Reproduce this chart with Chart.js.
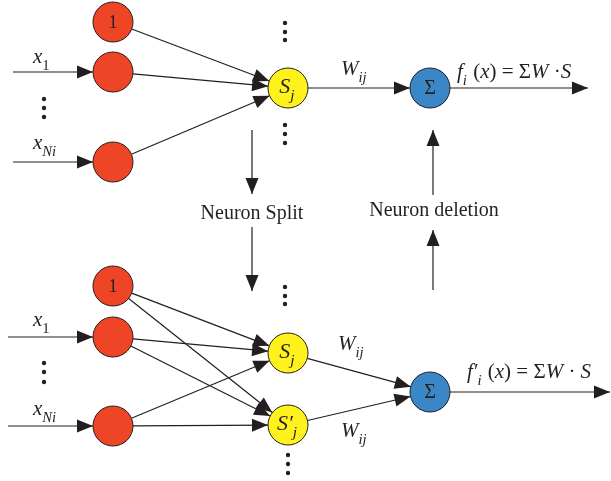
<!DOCTYPE html>
<html>
<head>
<meta charset="utf-8">
<script src="https://cdn.jsdelivr.net/npm/chart.js@4"></script>
<style>
  body { margin: 0; background: #fff; }
  #wrap { width: 611px; height: 481px; }
</style>
</head>
<body>
<div id="wrap"><canvas id="net"></canvas></div>
<script>
/* Neuron split / deletion diagram drawn on a pixel-sized scatter chart */

// nodes (ids, centres in chart units, kind)
const NODE_IDS  = ["b1", "x1", "xn", "s", "sum", "b1b", "x1b", "xnb", "sb", "sp", "sumb"];
const NODE_X    = [113, 113, 113, 288, 430, 113, 113, 113, 288, 288, 430];
const NODE_Y    = [22, 72, 162, 88, 88, 286, 337, 426, 353, 425, 392];
const NODE_KIND = ["in", "in", "in", "hid", "out", "in", "in", "in", "hid", "hid", "out"];
const NODE_TEXT = ["1", "", "", "S|j", "Σ", "1", "", "", "S|j", "S′|j", "Σ"];
const NODE_R = 20;

// connections between nodes, all with arrowheads at the target
const EDGES = [
    ["b1", "s"], ["x1", "s"], ["xn", "s"], ["s", "sum"],
    ["b1b", "sb"], ["b1b", "sp"], ["x1b", "sb"], ["x1b", "sp"],
    ["xnb", "sb"], ["xnb", "sp"], ["sb", "sumb"], ["sp", "sumb"],
];

// free arrows: start x, start y, tip x, tip y
const ARROWS = [
    [13, 72, 93, 72], [13, 162, 93, 162], [450, 88, 588, 88],
    [8, 337, 93, 337], [8, 426, 93, 426], [450, 392, 610, 392],
    [252, 130, 252, 194], [252, 227, 252, 291],
    [433, 290, 433, 230], [433, 195, 433, 130],
];

// vertical ellipsis dots
const DOTS_X = [44, 44, 44, 285, 285, 285, 285, 285, 285, 44, 44, 44, 285, 285, 285, 288, 288, 288];
const DOTS_Y = [99, 108, 117, 23, 32, 40, 125, 134, 143, 363, 372, 382, 287, 296, 304, 455, 464, 473];

const COLORS = { in: "#EF4527", hid: "#FFF21C", out: "#3A87C8" };
const INK = "#231F20";

// labels: [x, y(baseline), align, parts]  part = [text, italic, sub]
const LABELS = [
    [33, 63, "left", [["x", 1, 0], ["1", 0, 1]]],
    [33, 149, "left", [["x", 1, 0], ["Ni", 1, 1]]],
    [33, 326, "left", [["x", 1, 0], ["1", 0, 1]]],
    [33, 415, "left", [["x", 1, 0], ["Ni", 1, 1]]],
    [341, 75, "left", [["W", 1, 0], ["ij", 1, 1]]],
    [338, 350, "left", [["W", 1, 0], ["ij", 1, 1]]],
    [341, 437, "left", [["W", 1, 0], ["ij", 1, 1]]],
    [457, 78, "left", [["f", 1, 0], ["i", 1, 1], [" (", 0, 0], ["x", 1, 0], [") = Σ", 0, 0], ["W", 1, 0], [" ·", 0, 0], ["S", 1, 0]]],
    [467, 378, "left", [["f′", 1, 0], ["i", 1, 1], [" (", 0, 0], ["x", 1, 0], [") = Σ", 0, 0], ["W", 1, 0], [" · ", 0, 0], ["S", 1, 0]]],
];
const CAPTIONS = [["Neuron Split", 252, 219], ["Neuron deletion", 434, 216]];

const SERIF = "'Liberation Serif', 'DejaVu Serif', serif";

function nodeAt(id) {
    const i = NODE_IDS.indexOf(id);
    return { x: NODE_X[i], y: NODE_Y[i] };
}

// edge from rim of source to rim of target
function edgeLine(a, b) {
    const p = nodeAt(a), q = nodeAt(b);
    const dx = q.x - p.x, dy = q.y - p.y, len = Math.hypot(dx, dy);
    const ux = dx / len, uy = dy / len;
    return [
        { x: p.x + ux * NODE_R, y: p.y + uy * NODE_R },
        { x: q.x - ux * NODE_R, y: q.y - uy * NODE_R },
    ];
}

const lineSets = EDGES.map(e => edgeLine(e[0], e[1]))
    .concat(ARROWS.map(a => [{ x: a[0], y: a[1] }, { x: a[2], y: a[3] }]))
    .map(pts => ({
        data: pts,
        showLine: true,
        pointRadius: 0,
        borderColor: INK,
        borderWidth: 1.2,
        borderCapStyle: "butt",
        arrow: true,
        order: 2,
    }));

function fontFor(part, base) {
    const size = part[2] ? base * 0.7 : base;
    return `${part[1] ? "italic " : ""}${size}px ${SERIF}`;
}

function drawRich(ctx, x, y, parts, align, base) {
    const widths = parts.map(p => { ctx.font = fontFor(p, base); return ctx.measureText(p[0]).width; });
    const total = widths.reduce((s, w) => s + w, 0);
    let cx = align === "center" ? x - total / 2 : x;
    parts.forEach((p, i) => {
        ctx.font = fontFor(p, base);
        ctx.fillText(p[0], cx, y + (p[2] ? base * 0.33 : 0));
        cx += widths[i] + (p[2] ? 1 : 0);
    });
}

const diagramPlugin = {
    id: "diagram",
    afterDatasetsDraw(chart) {
        const ctx = chart.ctx;
        const xs = chart.scales.x, ys = chart.scales.y;
        ctx.save();
        ctx.fillStyle = INK;

        // arrowheads
        chart.data.datasets.forEach((ds, i) => {
            if (!ds.arrow) return;
            const pts = chart.getDatasetMeta(i).data;
            const a = pts[0], b = pts[1];
            const ang = Math.atan2(b.y - a.y, b.x - a.x);
            const L = 16, W = 6.5;
            ctx.beginPath();
            ctx.moveTo(b.x, b.y);
            ctx.lineTo(b.x - L * Math.cos(ang) + W * Math.sin(ang), b.y - L * Math.sin(ang) - W * Math.cos(ang));
            ctx.lineTo(b.x - L * Math.cos(ang) - W * Math.sin(ang), b.y - L * Math.sin(ang) + W * Math.cos(ang));
            ctx.closePath();
            ctx.fill();
        });

        // node texts
        ctx.textBaseline = "alphabetic";
        NODE_TEXT.forEach((t, i) => {
            if (!t) return;
            const px = xs.getPixelForValue(NODE_X[i]), py = ys.getPixelForValue(NODE_Y[i]);
            if (t.includes("|")) {
                const [main, sub] = t.split("|");
                drawRich(ctx, px - 1, py + 5, [[main, 1, 0], [sub, 1, 1]], "center", 22);
            } else {
                drawRich(ctx, px, py + 6, [[t, 0, 0]], "center", t === "Σ" ? 20 : 18);
            }
        });

        // free labels
        LABELS.forEach(l => {
            drawRich(ctx, xs.getPixelForValue(l[0]), ys.getPixelForValue(l[1]), l[3], l[2], 21);
        });

        ctx.font = `20px ${SERIF}`;
        ctx.textAlign = "center";
        CAPTIONS.forEach(c => ctx.fillText(c[0], xs.getPixelForValue(c[1]), ys.getPixelForValue(c[2])));
        ctx.restore();
    },
};

new Chart(document.getElementById("net").getContext("2d"), {
    type: "scatter",
    data: {
        datasets: [
            {
                data: NODE_X.map((x, i) => ({ x, y: NODE_Y[i] })),
                pointRadius: NODE_R,
                pointBackgroundColor: NODE_KIND.map(k => COLORS[k]),
                pointBorderColor: INK,
                pointBorderWidth: 1,
                order: 0,
                clip: false,
            },
            {
                data: DOTS_X.map((x, i) => ({ x, y: DOTS_Y[i] })),
                pointRadius: 2.2,
                pointBackgroundColor: INK,
                pointBorderWidth: 0,
                order: 1,
            },
            ...lineSets,
        ],
    },
    options: {
        responsive: true,
        maintainAspectRatio: false,
        animation: false,
        events: [],
        layout: { padding: 0, autoPadding: false },
        plugins: { legend: { display: false }, tooltip: { enabled: false } },
        scales: {
            x: { type: "linear", min: 0, max: 611, display: false },
            y: { type: "linear", min: 0, max: 481, reverse: true, display: false },
        },
    },
    plugins: [diagramPlugin],
});
</script>
</body>
</html>
